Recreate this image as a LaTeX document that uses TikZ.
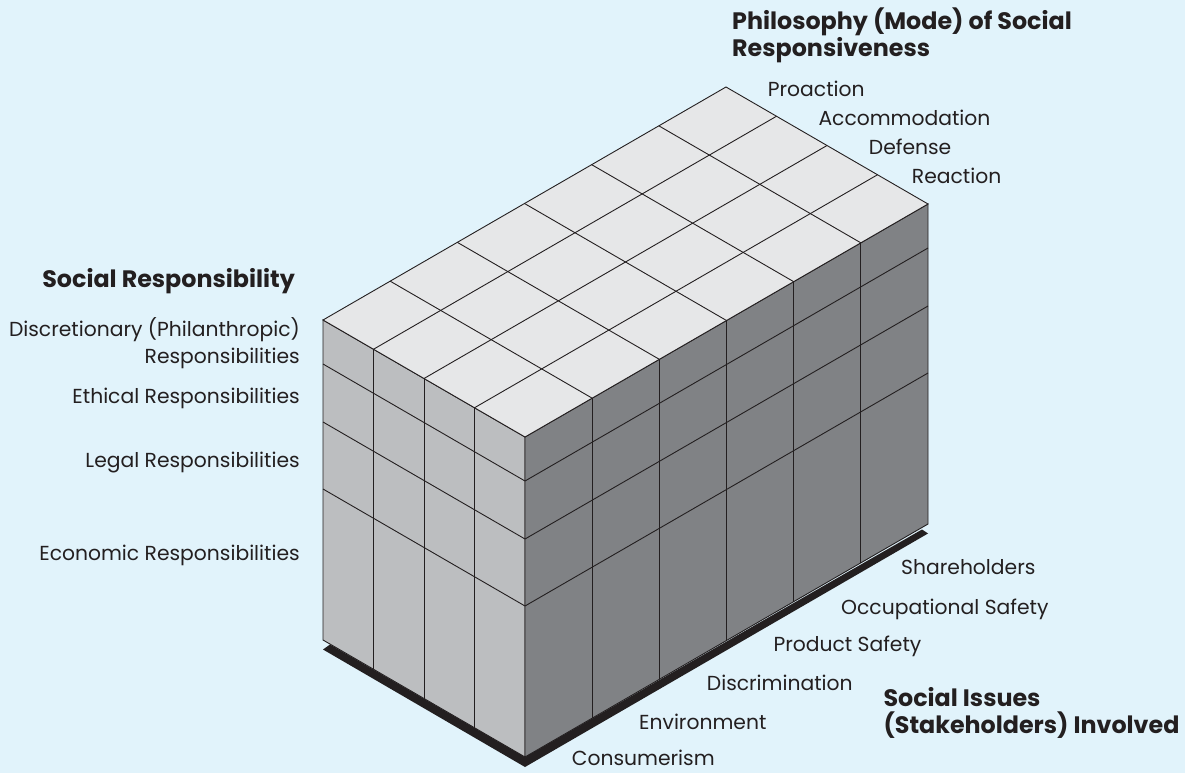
\documentclass[tikz,border=0pt]{standalone}
\usepackage{fontspec}
\setmainfont{Poppins}
\usetikzlibrary{calc}
\definecolor{bg}{RGB}{225,243,251}
\definecolor{topc}{RGB}{230,231,232}
\definecolor{leftc}{RGB}{188,190,192}
\definecolor{rightc}{RGB}{128,130,133}
\definecolor{ink}{RGB}{35,31,32}
\begin{document}
\begin{tikzpicture}[x=1pt,y=-1pt,
  grid/.style={draw=ink,line width=0.9pt,line join=miter},
  lbl/.style={inner sep=0pt,text=ink,font=\fontsize{20.3}{24}\selectfont},
  head/.style={inner sep=0pt,text=ink,font=\fontsize{23.8}{28}\selectfont\bfseries}]
\fill[bg] (0,0) rectangle (1185,773);
\useasboundingbox (0,0) rectangle (1185,773);
\coordinate (L) at (323,320);
\coordinate (F) at (525,437);
\coordinate (R) at (928,204);
\coordinate (B) at (726,87);
\coordinate (Lb) at (323,640);
\coordinate (Fb) at (525,757);
\coordinate (Rb) at (928,524);
% shadow
\fill[ink] (323,649.5) -- (525,767) -- (928,533.5) -- (922,529.5) -- (Fb) -- (330,644.5) -- cycle;
% faces
\filldraw[fill=leftc,grid] (L) -- (F) -- (Fb) -- (Lb) -- cycle;
\filldraw[fill=rightc,grid] (F) -- (R) -- (Rb) -- (Fb) -- cycle;
\filldraw[fill=topc,grid] (L) -- (F) -- (R) -- (B) -- cycle;
% top grid
\foreach \k in {1,2,3} \draw[grid] ($(L)+\k*(50.5,29.25)$) -- ($(B)+\k*(50.5,29.25)$);
\foreach \j in {1,...,5} \draw[grid] ($(L)+\j*(67.167,-38.833)$) -- ($(F)+\j*(67.167,-38.833)$);
% left face grid
\foreach \k in {1,2,3} \draw[grid] ($(L)+\k*(50.5,29.25)$) -- ($(Lb)+\k*(50.5,29.25)$);
\foreach \h in {44,102,169} \draw[grid] ($(L)+(0,\h)$) -- ($(F)+(0,\h)$);
% right face grid
\foreach \j in {1,...,5} \draw[grid] ($(F)+\j*(67.167,-38.833)$) -- ($(Fb)+\j*(67.167,-38.833)$);
\foreach \h in {44,102,169} \draw[grid] ($(F)+(0,\h)$) -- ($(R)+(0,\h)$);
% headings
\node[head,anchor=base west] (hmodeA) at (732,30) {Philosophy (Mode) of Social};
\node[head,anchor=base west] (hmodeB) at (732,56.7) {Responsiveness};
\node[head,anchor=base east] (hresp) at (295,287.3) {Social Responsibility};
\node[head,anchor=base west] (hissA) at (883.3,706) {Social Issues};
\node[head,anchor=base west] (hissB) at (883.3,733.3) {(Stakeholders) Involved};
% modes
\node[lbl,anchor=base west] (proaction) at (767.7,96.7) {Proaction};
\node[lbl,anchor=base west] (accommodation) at (818.3,125.7) {Accommodation};
\node[lbl,anchor=base west] (defense) at (868.7,154.3) {Defense};
\node[lbl,anchor=base west] (reaction) at (911.7,183.3) {Reaction};
% responsibilities
\node[lbl,anchor=base east] (discA) at (300,336) {Discretionary (Philanthropic)};
\node[lbl,anchor=base east] (discB) at (300,363.3) {Responsibilities};
\node[lbl,anchor=base east] (ethical) at (300,403.3) {Ethical Responsibilities};
\node[lbl,anchor=base east] (legal) at (300,467.3) {Legal Responsibilities};
\node[lbl,anchor=base east] (economic) at (300,560.7) {Economic Responsibilities};
% issues
\node[lbl,anchor=base west] (share) at (901,574.3) {Shareholders};
\node[lbl,anchor=base west] (occup) at (841,614.3) {Occupational Safety};
\node[lbl,anchor=base west] (product) at (773.3,651.7) {Product Safety};
\node[lbl,anchor=base west] (discrim) at (706.7,690.7) {Discrimination};
\node[lbl,anchor=base west] (environ) at (639,729) {Environment};
\node[lbl,anchor=base west] (consum) at (571.7,765.7) {Consumerism};
\end{tikzpicture}
\end{document}
